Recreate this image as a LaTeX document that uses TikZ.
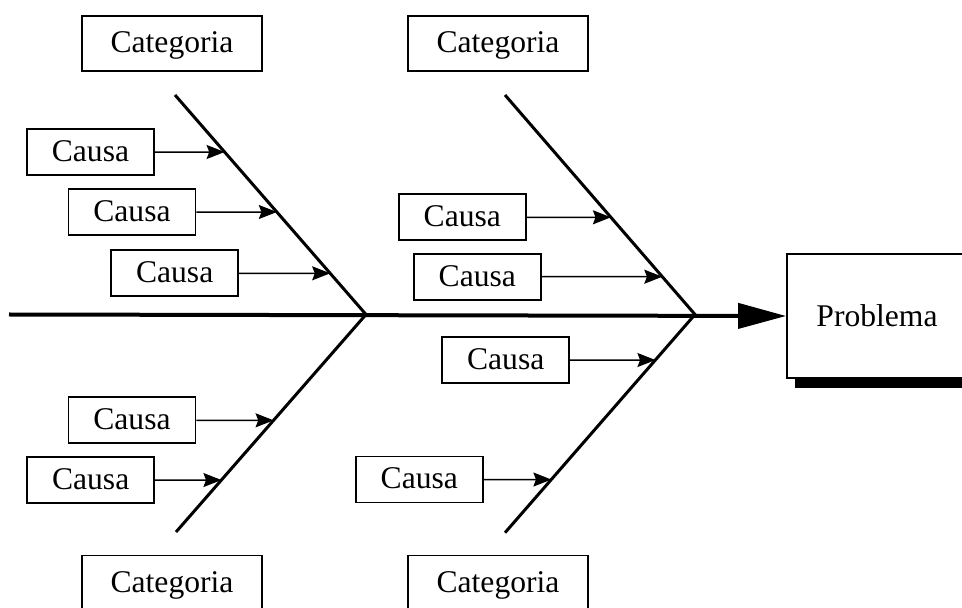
\documentclass[tikz,border=0pt]{standalone}
\usepackage{fontspec}
\setmainfont{Liberation Serif}
\usepackage{tikz}
\usetikzlibrary{arrows.meta, shadows}

\begin{document}
\begin{tikzpicture}[
    x=0.5pt, y=-0.5pt,
    every node/.style={font=\fontsize{15.8}{18}\selectfont},
    catbox/.style={draw, line width=0.9pt, minimum width=90pt, minimum height=27.5pt, inner sep=0pt, text depth=1pt},
    causebox/.style={draw, line width=0.9pt, minimum width=63.5pt, minimum height=23pt, inner sep=0pt, text depth=1pt},
    probbox/.style={draw, fill=white, line width=0.9pt, minimum width=90pt, minimum height=62pt, inner sep=0pt,
        general shadow={fill=black, shadow xshift=4pt, shadow yshift=-5pt}},
    bone/.style={line width=1.5pt, line join=miter},
    spine/.style={line width=2pt, -{Triangle[length=24pt, width=12.5pt]}},
    arr/.style={line width=0.75pt, -{Stealth[length=9pt, width=7pt, inset=1.3pt]}},
]

% ===== Page =====
\useasboundingbox (0,0) rectangle (962,608);

% ===== Problem head =====
\node[probbox] (prob) at (877,316) {Problema};

% ===== Spine =====
\coordinate (tail) at (9,314.5);
\draw[spine] (tail) -- (prob.west);

% ===== Bones =====
\coordinate (t1) at (175,95);
\coordinate (j1) at (366,314.5);
\coordinate (b1) at (176,532);
\coordinate (t2) at (505,95);
\coordinate (j2) at (695,314.5);
\coordinate (b2) at (505,532.7);
\draw[bone] (t1) -- (j1) -- (b1);
\draw[bone] (t2) -- (j2) -- (b2);

% ===== Categories =====
\node[catbox] (cat1) at (172,43.5) {Categoria};
\node[catbox] (cat2) at (498,43.5) {Categoria};
\node[catbox] (cat3) at (172,583) {Categoria};
\node[catbox] (cat4) at (498,583) {Categoria};

% ===== Causes, upper left =====
\node[causebox] (c1) at (90.5,152) {Causa};
\node[causebox] (c2) at (132,212) {Causa};
\node[causebox] (c3) at (174.7,273.3) {Causa};

% ===== Causes, upper right =====
\node[causebox] (c4) at (462.3,217.3) {Causa};
\node[causebox] (c5) at (477.3,276.7) {Causa};

% ===== Causes, lower left =====
\node[causebox] (c6) at (132,420.3) {Causa};
\node[causebox] (c7) at (90.7,480) {Causa};

% ===== Causes, lower right =====
\node[causebox] (c8) at (505.7,360) {Causa};
\node[causebox] (c9) at (419.3,479.5) {Causa};

% ===== Arrows onto the bones =====
\draw[arr] (c1) -- (intersection cs: first line={(t1)--(j1)}, second line={(c1.east)--(c1.west)});
\draw[arr] (c2) -- (intersection cs: first line={(t1)--(j1)}, second line={(c2.east)--(c2.west)});
\draw[arr] (c3) -- (intersection cs: first line={(t1)--(j1)}, second line={(c3.east)--(c3.west)});
\draw[arr] (c4) -- (intersection cs: first line={(t2)--(j2)}, second line={(c4.east)--(c4.west)});
\draw[arr] (c5) -- (intersection cs: first line={(t2)--(j2)}, second line={(c5.east)--(c5.west)});
\draw[arr] (c6) -- (intersection cs: first line={(j1)--(b1)}, second line={(c6.east)--(c6.west)});
\draw[arr] (c7) -- (intersection cs: first line={(j1)--(b1)}, second line={(c7.east)--(c7.west)});
\draw[arr] (c8) -- (intersection cs: first line={(j2)--(b2)}, second line={(c8.east)--(c8.west)});
\draw[arr] (c9) -- (intersection cs: first line={(j2)--(b2)}, second line={(c9.east)--(c9.west)});

\end{tikzpicture}
\end{document}
